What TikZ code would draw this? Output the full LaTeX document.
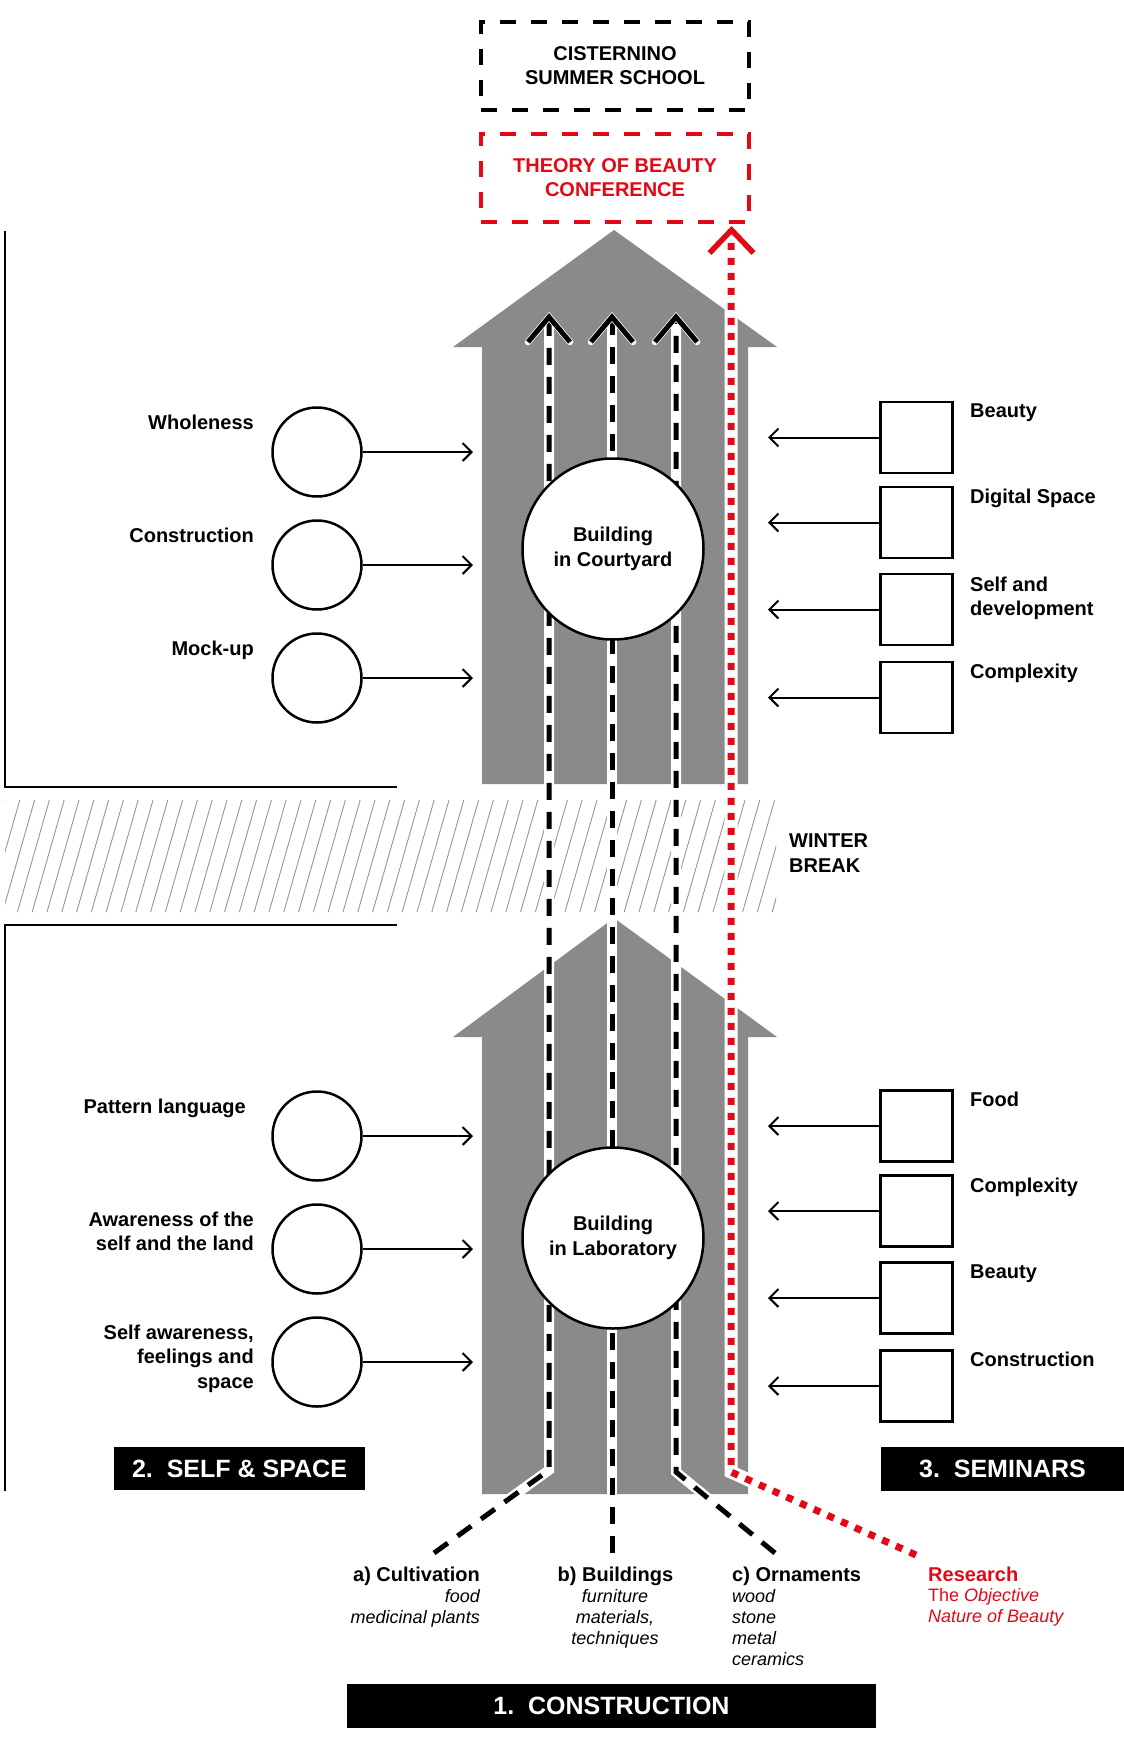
\documentclass[tikz,border=0pt]{standalone}
\usepackage{fontspec}
\setmainfont{Liberation Sans}
\usetikzlibrary{arrows.meta}
\definecolor{rd}{RGB}{226,8,22}
\definecolor{gr}{RGB}{138,138,138}
\definecolor{hatchgray}{RGB}{150,150,150}
\begin{document}
\begin{tikzpicture}[x=1pt,y=-1pt,
 lbl/.style={font=\fontsize{20}{24.5}\selectfont\bfseries, inner sep=0pt},
 itl/.style={font=\fontsize{18}{21.2}\selectfont\itshape, inner sep=0pt},
 circ/.style={circle, draw, line width=2.5pt, fill=white, minimum size=89pt, inner sep=0pt},
 bigcirc/.style={circle, draw, line width=2.5pt, fill=white, minimum size=181pt, inner sep=0pt, font=\fontsize{20}{24.5}\selectfont\bfseries, align=center},
 sqbox/.style={rectangle, draw, line width=2.5pt, fill=white, minimum width=72pt, minimum height=71pt, inner sep=0pt},
 feed/.style={line width=2pt, -{Straight Barb[length=9pt,width=18pt]}},
 wbg/.style={white, line width=10pt},
 blkdash/.style={black, line width=5pt, dash pattern=on 17pt off 12pt},
 rbg/.style={white, line width=13pt},
 rdot/.style={rd, line width=7pt, dash pattern=on 7pt off 8pt},
 chevw/.style={white, line width=6.5pt, line cap=round, line join=miter},
 chevb/.style={black, line width=5pt, line join=miter},
 tag/.style={fill=black, text=white, font=\fontsize{25}{30}\selectfont\bfseries, inner sep=0pt},
 dbox/.style={draw, line width=4.5pt, dash pattern=on 16pt off 15pt, minimum width=268pt, minimum height=88pt, font=\fontsize{20}{24}\selectfont\bfseries, align=center, inner sep=0pt},
 bracket/.style={line width=2.5pt},
]
\useasboundingbox (0,0) rectangle (1124,1738);

% grey arrows
\fill[gr] (482,784) -- (482,347) -- (453,347) -- (614,230) -- (777,347) -- (748,347) -- (748,784) -- cycle;
\fill[gr] (482,1494) -- (482,1037) -- (453,1037) -- (614,918) -- (777,1037) -- (748,1037) -- (748,1494) -- cycle;

% winter break hatching
\begin{scope}
  \clip (5,800) rectangle (776,912);
  \foreach \i in {0,...,55} \draw[hatchgray, line width=0.9pt] ({5+\i*14.8},800) -- ++(-32,112);
\end{scope}

% brackets
\draw[bracket] (5,231) -- (5,787) -- (397,787);
\draw[bracket] (397,925) -- (5,925) -- (5,1491);

% line coordinates
\coordinate (a0) at (434,1553); \coordinate (a1) at (549,1470); \coordinate (a2) at (549,317);
\coordinate (b0) at (612,1553); \coordinate (b2) at (612,317);
\coordinate (c0) at (775,1553); \coordinate (c1) at (676,1472); \coordinate (c2) at (676,317);
\coordinate (r0) at (916,1555); \coordinate (r1) at (731,1472); \coordinate (r2) at (731,236);
\coordinate (rt) at (731.5,230);

% white backgrounds
\draw[wbg] (a0) -- (a1) -- (a2);
\draw[wbg] (b0) -- (b2);
\draw[wbg] (c0) -- (c1) -- (c2);
\draw[rbg] (r0) -- (r1) -- (r2);

% dashed lines
\draw[blkdash] (a0) -- (a1) -- (a2);
\draw[blkdash] (b0) -- (b2);
\draw[blkdash] (c0) -- (c1) -- (c2);
\draw[rdot] (r0) -- (r1) -- (r2);

% chevrons
\foreach \p in {a2,b2,c2} {
  \draw[chevw] ([shift={(-21,25)}]\p) -- (\p) -- ([shift={(21,25)}]\p);
  \draw[chevb] ([shift={(-21,25)}]\p) -- (\p) -- ([shift={(21,25)}]\p);
}
\draw[rd, line width=5.5pt, line join=miter] ([shift={(-22,23)}]rt) -- (rt) -- ([shift={(22,23)}]rt);

% top boxes
\node[dbox] (cis) at (615,66) {CISTERNINO\\SUMMER SCHOOL};
\node[dbox, draw=rd, text=rd] (tob) at (615,178) {THEORY OF BEAUTY\\CONFERENCE};

% central circles
\node[bigcirc] (bc) at (613,549) {Building\\in Courtyard};
\node[bigcirc] (bl) at (613,1238) {Building\\in Laboratory};

% left circles upper
\node[circ] (w1) at (317,452) {};
\node[circ] (w2) at (317,565) {};
\node[circ] (w3) at (317,678) {};
\coordinate (wt1) at (473,452); \coordinate (wt2) at (473,565); \coordinate (wt3) at (473,678);
\draw[feed] (w1) -- (wt1);
\draw[feed] (w2) -- (wt2);
\draw[feed] (w3) -- (wt3);
\node[lbl, anchor=north east] (lw1) at (254,414.7) {Wholeness};
\node[lbl, anchor=north east] (lw2) at (254,527.7) {Construction};
\node[lbl, anchor=north east] (lw3) at (254,640.7) {Mock-up};

% left circles lower
\node[circ] (p1) at (317,1136) {};
\node[circ] (p2) at (317,1249) {};
\node[circ] (p3) at (317,1362) {};
\coordinate (pt1) at (473,1136); \coordinate (pt2) at (473,1249); \coordinate (pt3) at (473,1362);
\draw[feed] (p1) -- (pt1);
\draw[feed] (p2) -- (pt2);
\draw[feed] (p3) -- (pt3);
\node[lbl, anchor=north east] (lp1) at (246,1098.7) {Pattern language};
\node[lbl, anchor=north east, align=right] (lp2) at (254,1211.7) {Awareness of the\\self and the land};
\node[lbl, anchor=north east, align=right] (lp3) at (254,1324.7) {Self awareness,\\feelings and\\space};

% right boxes upper
\node[sqbox] (s1) at (916.5,437.5) {};
\node[sqbox] (s2) at (916.5,522.5) {};
\node[sqbox] (s3) at (916.5,609.5) {};
\node[sqbox] (s4) at (916.5,697.5) {};
\coordinate (st1) at (768,437.5); \coordinate (st2) at (768,522.5); \coordinate (st3) at (768,609.5); \coordinate (st4) at (768,697.5);
\draw[feed] (s1) -- (st1);
\draw[feed] (s2) -- (st2);
\draw[feed] (s3) -- (st3);
\draw[feed] (s4) -- (st4);
\node[lbl, anchor=north west] (ls1) at (970,403.7) {Beauty};
\node[lbl, anchor=north west] (ls2) at (970,488.7) {Digital Space};
\node[lbl, anchor=north west, align=left] (ls3) at (970,576.7) {Self and\\development};
\node[lbl, anchor=north west] (ls4) at (970,663.7) {Complexity};

% right boxes lower
\node[sqbox] (q1) at (916.5,1126) {};
\node[sqbox] (q2) at (916.5,1211) {};
\node[sqbox] (q3) at (916.5,1298) {};
\node[sqbox] (q4) at (916.5,1386) {};
\coordinate (qt1) at (768,1126); \coordinate (qt2) at (768,1211); \coordinate (qt3) at (768,1298); \coordinate (qt4) at (768,1386);
\draw[feed] (q1) -- (qt1);
\draw[feed] (q2) -- (qt2);
\draw[feed] (q3) -- (qt3);
\draw[feed] (q4) -- (qt4);
\node[lbl, anchor=north west] (lq1) at (970,1091.7) {Food};
\node[lbl, anchor=north west] (lq2) at (970,1177.7) {Complexity};
\node[lbl, anchor=north west] (lq3) at (970,1264.7) {Beauty};
\node[lbl, anchor=north west] (lq4) at (970,1351.7) {Construction};

% winter break
\node[lbl, anchor=north west, align=left] (wb) at (789,833.7) {WINTER\\BREAK};

% black tags
\node[tag, minimum width=251pt, minimum height=43pt] (t2) at (239.5,1468.5) {2.\ \ SELF \& SPACE};
\node[tag, minimum width=243pt, minimum height=44pt] (t3) at (1002.5,1469) {3.\ \ SEMINARS};
\node[tag, minimum width=529pt, minimum height=44pt] (t1) at (611.5,1706) {1.\ \ CONSTRUCTION};

% bottom labels
\node[lbl, anchor=base east] (ha) at (480,1581) {a) Cultivation};
\node[itl, anchor=north east, align=right] (da) at (480,1589) {food\\medicinal plants};
\node[lbl, anchor=base] (hb) at (615.5,1581) {b) Buildings};
\node[itl, anchor=north, align=center] (db) at (615,1589) {furniture\\materials,\\techniques};
\node[lbl, anchor=base west] (hco) at (732,1581) {c) Ornaments};
\node[itl, anchor=north west, align=left] (dco) at (732,1589) {wood\\stone\\metal\\ceramics};
\node[lbl, anchor=base west, text=rd] (hr) at (928,1581) {Research};
\node[itl, anchor=north west, align=left, text=rd] (dr) at (928,1588) {{\upshape The} Objective\\Nature of Beauty};
\end{tikzpicture}
\end{document}
